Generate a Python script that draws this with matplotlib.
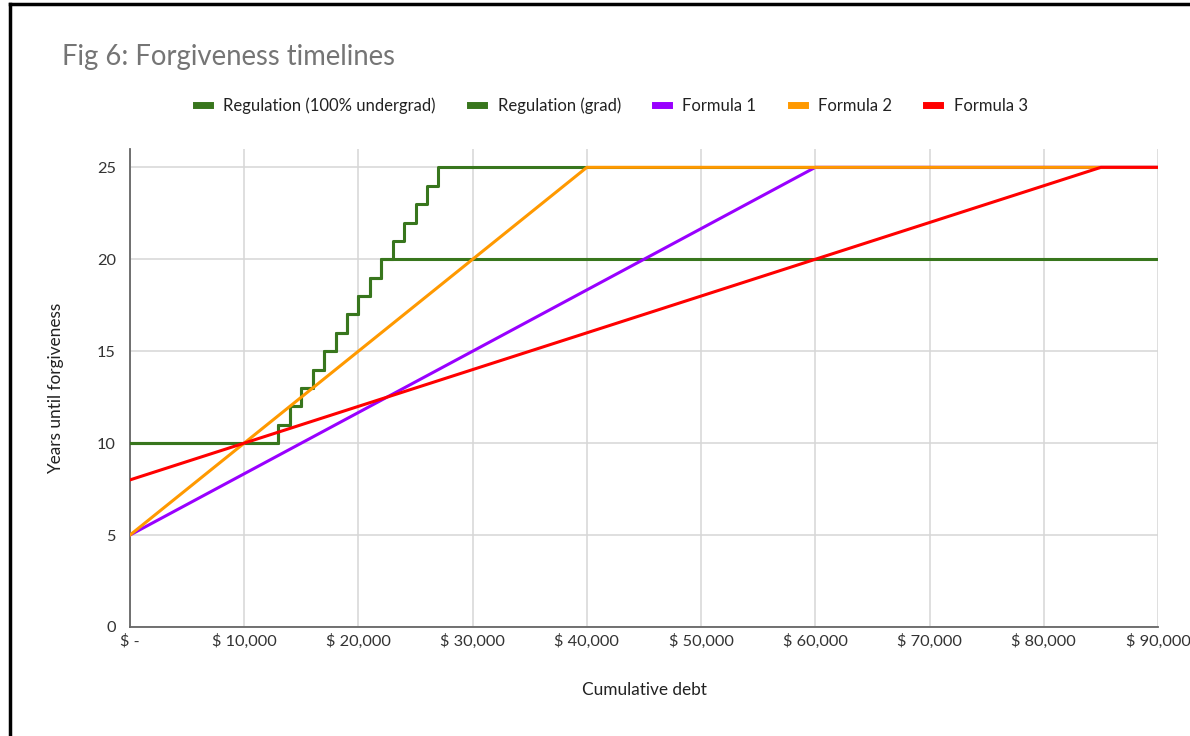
import matplotlib.pyplot as plt
from matplotlib.lines import Line2D
from matplotlib.ticker import FuncFormatter

plt.rcParams['font.family'] = ['Lato', 'DejaVu Sans']

# regulation: 10 years up to $13k, +1 year per $1k after that
reg_debt = [0, 13000, 14000, 15000, 16000, 17000, 18000, 19000, 20000,
            21000, 22000, 23000, 24000, 25000, 26000, 27000, 90000]
reg_undergrad = [10, 11, 12, 13, 14, 15, 16, 17, 18, 19, 20,
                 20, 20, 20, 20, 20, 20]
reg_grad = [10, 11, 12, 13, 14, 15, 16, 17, 18, 19, 20,
            21, 22, 23, 24, 25, 25]

f1_debt = [0, 60000, 90000]
f1_years = [5, 25, 25]
f2_debt = [0, 40000, 90000]
f2_years = [5, 25, 25]
f3_debt = [0, 85000, 90000]
f3_years = [8, 25, 25]

xticks = list(range(0, 90001, 10000))
yticks = [0, 5, 10, 15, 20, 25]

green = '#38761d'
purple = '#9900ff'
orange = '#ff9900'
red = '#ff0000'

fig = plt.figure(figsize=(11.9, 7.36), dpi=100)
ax = fig.add_axes([0.1092, 0.1481, 0.8639, 0.6495])

lw = 2.2
ax.plot(reg_debt, reg_grad, drawstyle='steps-post', color=green, lw=lw,
        label='Regulation (grad)', zorder=3)
ax.plot(reg_debt, reg_undergrad, drawstyle='steps-post', color=green, lw=lw,
        label='Regulation (100% undergrad)', zorder=3)
ax.plot(f1_debt, f1_years, color=purple, lw=lw, label='Formula 1', zorder=4)
ax.plot(f2_debt, f2_years, color=orange, lw=lw, label='Formula 2', zorder=5)
ax.plot(f3_debt, f3_years, color=red, lw=lw, label='Formula 3', zorder=6)

ax.set_xlim(0, 90000)
ax.set_ylim(0, 26)
ax.set_xticks(xticks)
ax.set_yticks(yticks)
ax.xaxis.set_major_formatter(FuncFormatter(
    lambda v, p: '$ -' if v == 0 else f'$ {v:,.0f}'))
ax.tick_params(length=0, labelsize=11.8, labelcolor='#333333')
ax.tick_params(axis='x', pad=5)
ax.tick_params(axis='y', pad=10)
ax.grid(True, color='#d6d6d6', lw=1.1)
ax.set_axisbelow(True)
for s in ['top', 'right']:
    ax.spines[s].set_visible(False)
for s in ['left', 'bottom']:
    ax.spines[s].set_color('#666666')
    ax.spines[s].set_linewidth(1.3)

ax.set_xlabel('Cumulative debt', fontsize=12.4, color='#222222', labelpad=24)
ax.set_ylabel('Years until forgiveness', fontsize=12.4, color='#222222', labelpad=24)

handles, labels = ax.get_legend_handles_labels()
order = [1, 0, 2, 3, 4]
fig.legend([handles[i] for i in order], [labels[i] for i in order],
           loc='center left', bbox_to_anchor=(0.152, 0.856), ncol=5,
           frameon=False, fontsize=12.0, handlelength=0.85, handletextpad=0.8,
           columnspacing=2.05, labelcolor='#222222')
for h in fig.legends[0].legend_handles:
    h.set_linewidth(5)

fig.text(0.052, 0.922, 'Fig 6: Forgiveness timelines', fontsize=19.8,
         color='#757575', va='center', ha='left')

# frame on the left and top edges
fig.add_artist(Line2D([0.0084, 0.0084], [0.0, 0.994], color='black', lw=2.5,
                      transform=fig.transFigure))
fig.add_artist(Line2D([0.0084, 1.0], [0.994, 0.994], color='black', lw=2.5,
                      transform=fig.transFigure))

fig.savefig('out.png', dpi=100)
